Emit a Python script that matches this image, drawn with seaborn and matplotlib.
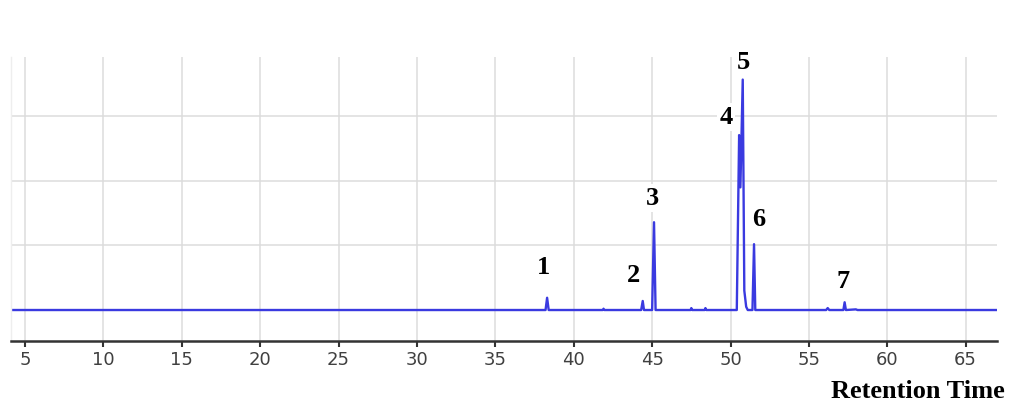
import matplotlib
matplotlib.use("Agg")
import matplotlib.pyplot as plt
import seaborn as sns
import pandas as pd

# chromatogram trace (retention time in min, detector signal in grid units)
rt = [4.1, 38.20, 38.30, 38.40, 41.85, 41.90, 41.95, 44.30, 44.40, 44.48,
      45.00, 45.12, 45.22, 47.45, 47.50, 47.55, 48.35, 48.40, 48.45,
      50.40, 50.55, 50.63, 50.78, 50.88, 51.00, 51.10, 51.40, 51.50, 51.58,
      56.10, 56.20, 56.30, 57.20, 57.28, 57.36, 58.00, 58.10, 67.0]
signal = [0, 0, 0.19, 0, 0, 0.02, 0, 0, 0.14, 0,
          0, 1.36, 0, 0, 0.03, 0, 0, 0.03, 0,
          0, 2.71, 1.90, 3.57, 0.30, 0.05, 0, 0, 1.02, 0,
          0, 0.03, 0, 0, 0.12, 0, 0.01, 0, 0]

# labelled peaks
peak_labels = ["1", "2", "3", "4", "5", "6", "7"]
peak_rt = [38.30, 44.40, 45.12, 50.55, 50.78, 51.50, 57.28]
peak_height = [0.19, 0.14, 1.36, 2.71, 3.57, 1.02, 0.12]
# label offsets from the apex, in pixels (dx, dy)
label_off = [(-4, 30), (-9, 25), (-2, 24), (-13, 18), (1, 17), (5, 25), (-2, 21)]

x_ticks = list(range(5, 70, 5))

df = pd.DataFrame({"rt": rt, "signal": signal})

sns.set_theme(style="white")
fig = plt.figure(figsize=(10.09, 4.04), dpi=100)
ax = fig.add_axes([11 / 1009, 63 / 404, 986 / 1009, 284 / 404])

sns.lineplot(data=df, x="rt", y="signal", ax=ax, color="#3a3ae0",
             linewidth=1.7, estimator=None, sort=False)

ax.set_xlim(4.1, 67.0)
ax.set_ylim(-0.48, 3.92)
ax.set_xticks(x_ticks)
ax.set_yticks([1, 2, 3])
ax.tick_params(axis="y", left=False, labelleft=False)
ax.tick_params(axis="x", bottom=True, direction="out", length=4, width=1.5,
               color="#333333", labelsize=13, labelcolor="#404040", pad=3)
ax.grid(True, color="#dcdcdc", linewidth=1.1)
ax.set_axisbelow(True)
ax.set_xlabel("")
ax.set_ylabel("")

for side in ["top", "right"]:
    ax.spines[side].set_visible(False)
ax.spines["left"].set_color("#eeeeee")
ax.spines["left"].set_linewidth(1.0)
ax.spines["bottom"].set_color("#333333")
ax.spines["bottom"].set_linewidth(1.8)

for lab, x, y, (dx, dy) in zip(peak_labels, peak_rt, peak_height, label_off):
    ax.annotate(lab, xy=(x, y), xytext=(dx * 0.72, dy * 0.72),
                textcoords="offset points", ha="center", va="center",
                fontsize=19, fontweight="bold", family="Liberation Serif",
                color="black", annotation_clip=False,
                bbox=dict(boxstyle="square,pad=0.1", fc="white", ec="none"))

fig.text(1005 / 1009, 1 - 392 / 404, "Retention Time", ha="right", va="center",
         fontsize=19, fontweight="bold", family="Liberation Serif", color="black")

fig.savefig("out.png", dpi=100)
